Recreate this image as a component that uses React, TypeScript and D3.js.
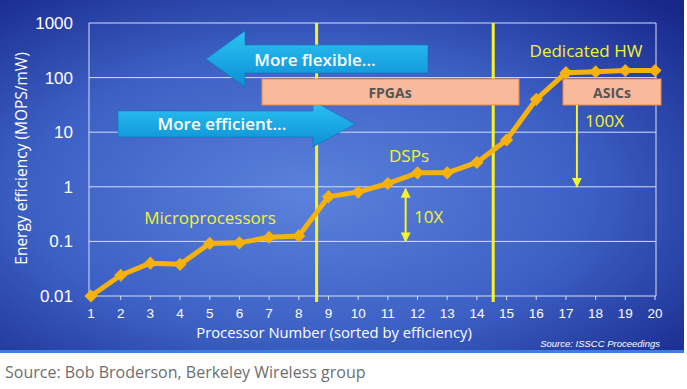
import * as d3 from 'd3';

// processor number (sorted by efficiency) and energy efficiency (MOPS/mW)
const processors = [1, 2, 3, 4, 5, 6, 7, 8, 9, 10, 11, 12, 13, 14, 15, 16, 17, 18, 19, 20];
const efficiency = [0.01, 0.024, 0.04, 0.038, 0.092, 0.094, 0.119, 0.126, 0.66, 0.8, 1.15, 1.8, 1.8, 2.8, 7.2, 40, 123, 128, 135, 135];
const yTicks = [0.01, 0.1, 1, 10, 100, 1000];
const yTickLabels = ['0.01', '0.1', '1', '10', '100', '1000'];
const dividers = [8.6, 14.55];

const W = 687;
const H = 389;
const margin = { left: 91, right: 32, top: 23, bottom: 93 };

export default function App() {
  const x = d3.scaleLinear().domain([1, 20]).range([margin.left, W - margin.right]);
  const y = d3.scaleLog().domain([0.01, 1000]).range([H - margin.bottom, margin.top]);
  const pts = processors.map((p, i) => ({ p, v: efficiency[i] }));
  const line = d3.line<{ p: number; v: number }>().x((d) => x(d.p)).y((d) => y(d.v));
  const diamond = d3.symbol().type(d3.symbolDiamond2).size(110)();

  const x0 = x(1) - 2;
  const x1 = x(20) + 1;
  const yBot = y(0.01);
  const yTop = y(1000);
  const sans = "'Open Sans', 'Noto Sans', sans-serif";
  const arial = "'Liberation Sans', Arial, sans-serif";

  // arrow shape helper (tip x, neck x, tail x, centre y, half body height, half head height)
  const arrow = (tip: number, neck: number, end: number, cy: number, bh: number, hh: number) =>
    `M${tip},${cy} L${neck},${cy - hh} L${neck},${cy - bh} L${end},${cy - bh} L${end},${cy + bh} L${neck},${cy + bh} L${neck},${cy + hh} Z`;

  return (
    <div style={{ position: 'absolute', left: 0, top: 0 }}>
      <svg width={W} height={H} style={{ display: 'block' }}>
        <defs>
          <radialGradient id="bg" cx="45%" cy="55%" r="75%">
            <stop offset="0%" stopColor="#5b82dc" />
            <stop offset="55%" stopColor="#3c5fc4" />
            <stop offset="100%" stopColor="#17278a" />
          </radialGradient>
          <linearGradient id="arrow" x1="0" y1="0" x2="0" y2="1">
            <stop offset="0%" stopColor="#2dc3f2" />
            <stop offset="100%" stopColor="#0b8fd6" />
          </linearGradient>
          <marker id="ah" viewBox="0 0 10 10" refX="9" refY="5" markerWidth="5" markerHeight="5" orient="auto-start-reverse">
            <path d="M0,0 L10,5 L0,10 Z" fill="#f4f32c" />
          </marker>
        </defs>
        <rect x={0} y={0} width={W} height={H} fill="#ffffff" />
        <rect x={0} y={0} width={684} height={353} fill="url(#bg)" />
        <rect x={0} y={350} width={684} height={3} fill="#3d7de0" />

        {/* grid */}
        {yTicks.map((t) => (
          <line key={t} x1={x0} x2={x1} y1={y(t)} y2={y(t)} stroke="#d8def5" strokeWidth={1} />
        ))}
        <line x1={x0} x2={x0} y1={yTop} y2={yBot} stroke="#d8def5" />
        <line x1={x1} x2={x1} y1={yTop} y2={yBot} stroke="#d8def5" />
        {processors.map((p) => (
          <line key={p} x1={x(p)} x2={x(p)} y1={yBot} y2={yBot + 4} stroke="#d8def5" />
        ))}

        {/* tick labels */}
        {yTicks.map((t, i) => (
          <text key={t} x={73} y={y(t) + 6} textAnchor="end" fill="#ffffff" fontFamily={arial} fontSize={17}>
            {yTickLabels[i]}
          </text>
        ))}
        {processors.map((p) => (
          <text key={p} x={x(p)} y={318} textAnchor="middle" fill="#ffffff" fontFamily={arial} fontSize={13.5}>
            {p}
          </text>
        ))}

        {/* axis titles */}
        <text transform={`translate(27,${(yTop + yBot) / 2 - 1}) rotate(-90)`} textAnchor="middle" fill="#ffffff" fontFamily={sans} fontSize={15.5}>
          Energy efficiency (MOPS/mW)
        </text>
        <text x={334} y={338} textAnchor="middle" fill="#ffffff" fontFamily={sans} fontSize={14.8}>
          Processor Number (sorted by efficiency)
        </text>
        <text x={660} y={347} textAnchor="end" fill="#ffffff" fontFamily={arial} fontStyle="italic" fontSize={9.5}>
          Source: ISSCC Proceedings
        </text>

        {/* divider lines */}
        {dividers.map((d) => (
          <line key={d} x1={x(d)} x2={x(d)} y1={yTop} y2={yBot + 6} stroke="#f4f32c" strokeWidth={3} />
        ))}

        {/* arrows */}
        <path d={arrow(206, 245, 428, 59, 14, 28)} fill="url(#arrow)" stroke="#0a6fb0" strokeWidth={0.5} />
        <text x={315} y={66} textAnchor="middle" fill="#ffffff" fontFamily={sans} fontWeight={600} fontSize={17}>
          More flexible...
        </text>
        <path d={arrow(355, 313, 118, 124, 13, 23)} fill="url(#arrow)" stroke="#0a6fb0" strokeWidth={0.5} />
        <text x={222} y={130} textAnchor="middle" fill="#ffffff" fontFamily={sans} fontWeight={600} fontSize={17}>
          More efficient...
        </text>

        {/* FPGA / ASIC boxes */}
        <rect x={262} y={79} width={257} height={26} fill="#f8b99c" stroke="#f08a3a" strokeWidth={1} />
        <text x={390} y={98} textAnchor="middle" fill="#555555" fontFamily={sans} fontWeight={700} fontSize={14}>
          FPGAs
        </text>
        <rect x={563} y={79} width={98} height={26} fill="#f8b99c" stroke="#f08a3a" strokeWidth={1} />
        <text x={612} y={98} textAnchor="middle" fill="#555555" fontFamily={sans} fontWeight={700} fontSize={14}>
          ASICs
        </text>

        {/* data line */}
        <path d={line(pts) ?? ''} fill="none" stroke="#f6b20c" strokeWidth={5} strokeLinejoin="round" />
        {pts.map((d) => (
          <path key={d.p} d={diamond ?? ''} transform={`translate(${x(d.p)},${y(d.v)})`} fill="#f6b20c" />
        ))}

        {/* annotations */}
        <line x1={x(17.37)} x2={x(17.37)} y1={105} y2={y(1)} stroke="#f4f32c" strokeWidth={2} markerEnd="url(#ah)" />
        <text x={585} y={127} fill="#f4f32c" fontFamily={sans} fontSize={17}>100X</text>
        <line x1={x(11.6)} x2={x(11.6)} y1={y(1) + 2} y2={y(0.1)} stroke="#f4f32c" strokeWidth={2} markerStart="url(#ah)" markerEnd="url(#ah)" />
        <text x={414} y={223} fill="#f4f32c" fontFamily={sans} fontSize={17}>10X</text>
        <text x={586} y={57} textAnchor="middle" fill="#f4f32c" fontFamily={sans} fontSize={17}>Dedicated HW</text>
        <text x={409} y={162} textAnchor="middle" fill="#f4f32c" fontFamily={sans} fontSize={17}>DSPs</text>
        <text x={210} y={224} textAnchor="middle" fill="#f4f32c" fontFamily={sans} fontSize={17}>Microprocessors</text>

        <text x={5} y={378} fill="#6e6e6e" fontFamily={sans} fontSize={16}>
          Source: Bob Broderson, Berkeley Wireless group
        </text>
      </svg>
    </div>
  );
}
